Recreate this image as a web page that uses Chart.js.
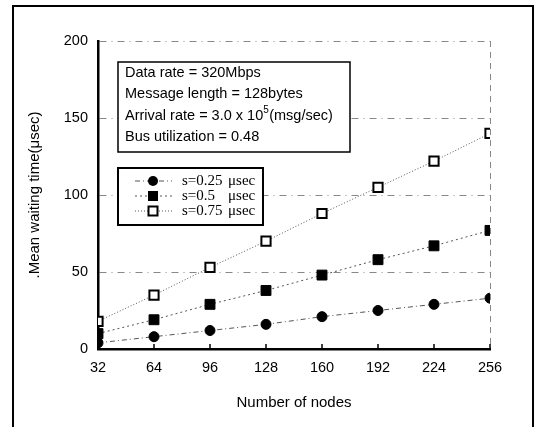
<!DOCTYPE html>
<html>
<head>
<meta charset="utf-8">
<script src="https://cdn.jsdelivr.net/npm/chart.js@4"></script>
<style>
  html, body { margin: 0; padding: 0; background: #fff; }
  #wrap { width: 536px; height: 427px; position: relative; }
</style>
</head>
<body>
<div id="wrap"><canvas id="waitChart"></canvas></div>
<script>
// node counts on the x axis
const nodes = [32, 64, 96, 128, 160, 192, 224, 256];

// mean waiting time (usec)
const s025 = [4, 8, 12, 16, 21, 25, 29, 33];
const s05 = [10, 19, 29, 38, 48, 58, 67, 77];
const s075 = [18, 35, 53, 70, 88, 105, 122, 140];

const seriesLabels = ['s=0.25', 's=0.5', 's=0.75'];
const yTicks = [0, 50, 100, 150, 200];

const infoLines = ['Data rate = 320Mbps', 'Message length = 128bytes', 'Arrival rate = 3.0 x 10', 'Bus utilization = 0.48'];

function toPoints(vals) {
    return nodes.map((n, i) => ({ x: n, y: vals[i] }));
}

const sansFont = '"Liberation Sans", Arial, sans-serif';
const serifFont = '"Liberation Serif", "Times New Roman", serif';

// frame, x tick marks, info box and legend box
const decorPlugin = {
    id: 'decor',
    afterDraw(chart) {
        const ctx = chart.ctx;
        const xs = chart.scales.x;
        const area = chart.chartArea;
        ctx.save();

        // outer frame
        ctx.strokeStyle = '#000';
        ctx.lineWidth = 2;
        ctx.beginPath();
        ctx.moveTo(13, 427);
        ctx.lineTo(13, 6);
        ctx.lineTo(533, 6);
        ctx.lineTo(533, 427);
        ctx.stroke();

        // small inward tick marks on x axis
        ctx.lineWidth = 1.5;
        nodes.forEach(n => {
            const px = xs.getPixelForValue(n);
            ctx.beginPath();
            ctx.moveTo(px, area.bottom);
            ctx.lineTo(px, area.bottom - 5);
            ctx.stroke();
        });

        // info box
        ctx.fillStyle = '#fff';
        ctx.fillRect(118, 62, 232, 90);
        ctx.lineWidth = 1.5;
        ctx.strokeRect(118, 62, 232, 90);
        ctx.fillStyle = '#000';
        ctx.textBaseline = 'middle';
        ctx.textAlign = 'left';
        ctx.font = '14.5px ' + sansFont;
        const lineY = [73, 94, 116, 137];
        infoLines.forEach((t, i) => {
            ctx.fillText(t, 125, lineY[i]);
            if (i === 2) {
                const w = ctx.measureText(t).width;
                ctx.font = '10px ' + sansFont;
                ctx.fillText('5', 125 + w, lineY[i] - 6);
                ctx.font = '14.5px ' + sansFont;
                ctx.fillText('(msg/sec)', 125 + w + 6, lineY[i]);
            }
        });

        // legend box
        ctx.fillStyle = '#fff';
        ctx.fillRect(118, 168, 145, 57);
        ctx.lineWidth = 2;
        ctx.strokeRect(118, 168, 145, 57);
        const legY = [181, 196, 211];
        chart.data.datasets.forEach((ds, i) => {
            const y = legY[i];
            ctx.strokeStyle = ds.borderColor;
            ctx.lineWidth = 1;
            ctx.setLineDash(ds.borderDash);
            ctx.beginPath();
            ctx.moveTo(135, y);
            ctx.lineTo(172, y);
            ctx.stroke();
            ctx.setLineDash([]);
            ctx.fillStyle = ds.pointBackgroundColor;
            ctx.strokeStyle = '#000';
            ctx.lineWidth = ds.pointBorderWidth;
            if (ds.pointStyle === 'circle') {
                ctx.beginPath();
                ctx.arc(153, y, 5, 0, Math.PI * 2);
                ctx.fill();
            } else {
                ctx.fillRect(148.5, y - 4.5, 9, 9);
                ctx.strokeRect(148.5, y - 4.5, 9, 9);
            }
            ctx.fillStyle = '#000';
            ctx.font = '15px ' + serifFont;
            ctx.fillText(seriesLabels[i], 182, y);
            ctx.fillText('\u03bcsec', 228, y);
        });
        ctx.restore();
    }
};

new Chart(document.getElementById('waitChart'), {
    type: 'line',
    data: {
        datasets: [
            {
                label: seriesLabels[0],
                data: toPoints(s025),
                borderColor: '#555',
                borderWidth: 1,
                borderDash: [5, 3, 1, 3],
                pointStyle: 'circle',
                pointRadius: 5,
                pointBackgroundColor: '#000',
                pointBorderColor: '#000',
                pointBorderWidth: 1
            },
            {
                label: seriesLabels[1],
                data: toPoints(s05),
                borderColor: '#555',
                borderWidth: 1,
                borderDash: [2, 3],
                pointStyle: 'rect',
                pointRadius: 7,
                pointBackgroundColor: '#000',
                pointBorderColor: '#000',
                pointBorderWidth: 1
            },
            {
                label: seriesLabels[2],
                data: toPoints(s075),
                borderColor: '#555',
                borderWidth: 1,
                borderDash: [1, 2],
                pointStyle: 'rect',
                pointRadius: 6.5,
                pointBackgroundColor: '#fff',
                pointBorderColor: '#000',
                pointBorderWidth: 2
            }
        ]
    },
    options: {
        responsive: true,
        maintainAspectRatio: false,
        animation: false,
        layout: { padding: { top: 41, right: 46, left: 0, bottom: 0 } },
        plugins: { legend: { display: false }, tooltip: { enabled: false } },
        scales: {
            x: {
                type: 'linear',
                min: 32,
                max: 256,
                afterFit(scale) { scale.height = 78; },
                afterBuildTicks(scale) { scale.ticks = nodes.map(v => ({ value: v })); },
                ticks: {
                    color: '#000',
                    font: { family: sansFont, size: 14.5 },
                    padding: 10,
                    maxRotation: 0
                },
                grid: {
                    drawTicks: false,
                    lineWidth: 1,
                    color: ctx => (ctx.tick && ctx.tick.value === 256 ? '#888' : 'rgba(0,0,0,0)')
                },
                border: { color: '#000', width: 2.5, dash: [6, 5] },
                title: {
                    display: true,
                    text: 'Number of nodes',
                    color: '#000',
                    font: { family: sansFont, size: 15 },
                    padding: { top: 0, bottom: 15 }
                }
            },
            y: {
                min: 0,
                max: 200,
                afterFit(scale) { scale.width = 98; },
                afterBuildTicks(scale) { scale.ticks = yTicks.map(v => ({ value: v })); },
                ticks: {
                    color: '#000',
                    font: { family: sansFont, size: 14.5 },
                    padding: 10
                },
                grid: {
                    drawTicks: false,
                    lineWidth: 1,
                    color: ctx => (ctx.tick && ctx.tick.value === 0 ? 'rgba(0,0,0,0)' : '#888')
                },
                border: { color: '#000', width: 2.5, dash: [7, 5, 1, 5] },
                title: {
                    display: true,
                    text: '.Mean waiting time(\u03bcsec)',
                    color: '#000',
                    font: { family: sansFont, size: 15 },
                    padding: { top: 26, bottom: 0 }
                }
            }
        }
    },
    plugins: [decorPlugin]
});
</script>
</body>
</html>
